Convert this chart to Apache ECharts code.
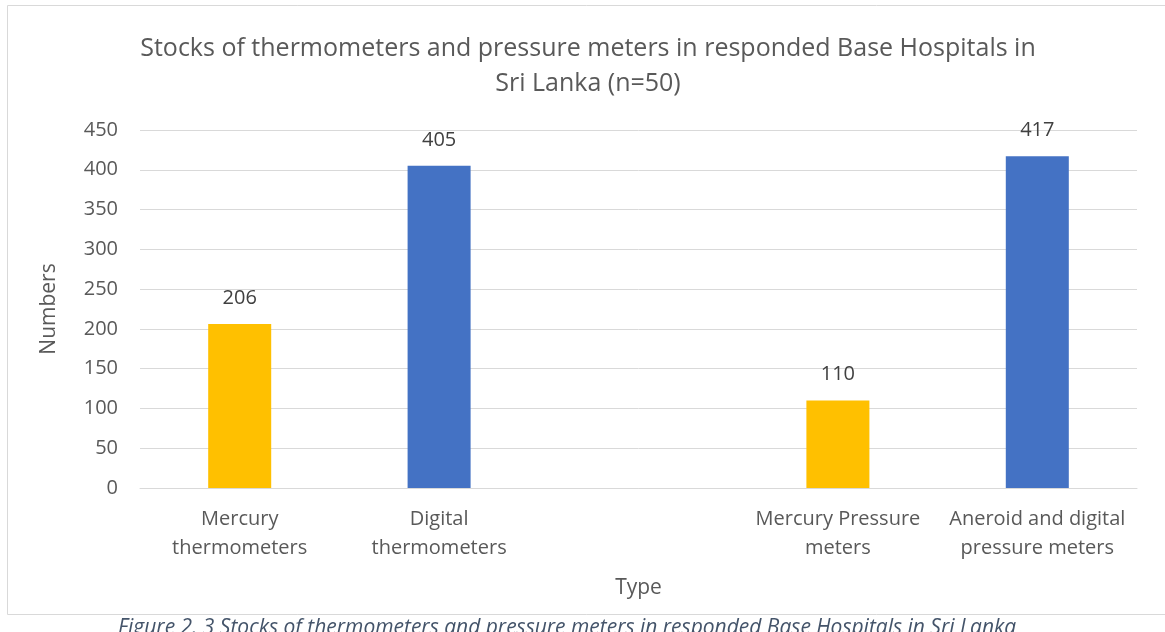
<!DOCTYPE html>
<html>
<head>
<meta charset="utf-8">
<script src="https://cdn.jsdelivr.net/npm/echarts@6/dist/echarts.min.js"></script>
<style>
  html, body { margin: 0; padding: 0; background: #fff; }
  #chart { width: 1165px; height: 632px; }
</style>
</head>
<body>
<div id="chart"></div>
<script>
const categories = [
  "Mercury\nthermometers",
  "Digital\nthermometers",
  "",
  "Mercury Pressure\nmeters",
  "Aneroid and digital\npressure meters"
];
const stockValues = [206, 405, null, 110, 417];
const barColors = ["#FFC000", "#4472C4", "#FFC000", "#FFC000", "#4472C4"];
const yTicks = { min: 0, max: 450, interval: 50 };

const font = "'Open Sans', 'Noto Sans', sans-serif";
const chart = echarts.init(document.getElementById("chart"), null, { renderer: "canvas" });

chart.setOption({
  animation: false,
  textStyle: { fontFamily: font },
  title: {
    text: "Stocks of thermometers and pressure meters in responded Base Hospitals in\nSri Lanka (n=50)",
    left: 583,
    top: 26,
    textAlign: "center",
    textStyle: { fontSize: 25, fontWeight: "normal", color: "#595959", lineHeight: 35, fontFamily: font }
  },
  grid: { left: 140, right: 28, top: 130, bottom: 144 },
  xAxis: {
    type: "category",
    data: categories,
    name: "Type",
    nameLocation: "middle",
    nameGap: 90,
    nameTextStyle: { fontSize: 21, color: "#595959" },
    axisLine: { lineStyle: { color: "#d9d9d9", width: 1 } },
    axisTick: { show: false },
    axisLabel: { fontSize: 20, color: "#595959", lineHeight: 29, margin: 17, interval: 0 }
  },
  yAxis: {
    type: "value",
    min: yTicks.min,
    max: yTicks.max,
    interval: yTicks.interval,
    name: "Numbers",
    nameLocation: "middle",
    nameGap: 80,
    nameTextStyle: { fontSize: 21, color: "#595959" },
    axisLine: { show: false },
    axisTick: { show: false },
    axisLabel: { fontSize: 20, color: "#595959", margin: 22 },
    splitLine: { lineStyle: { color: "#d9d9d9", width: 1 } }
  },
  series: [{
    type: "bar",
    data: stockValues.map((v, i) => ({ value: v, itemStyle: { color: barColors[i] } })),
    barWidth: "31.6%",
    label: {
      show: true,
      position: "top",
      distance: 16,
      fontSize: 20,
      color: "#404040"
    }
  }],
  graphic: [
    {
      type: "rect",
      shape: { x: 7.5, y: 5.5, width: 1170, height: 609 },
      style: { fill: null, stroke: "#d9d9d9", lineWidth: 1 },
      silent: true
    },
    {
      type: "text",
      left: 118,
      top: 618,
      style: {
        text: "Figure 2. 3 Stocks of thermometers and pressure meters in responded Base Hospitals in Sri Lanka",
        fontSize: 21,
        fontStyle: "italic",
        fill: "#44546A",
        fontFamily: font
      }
    }
  ]
});
</script>
</body>
</html>
